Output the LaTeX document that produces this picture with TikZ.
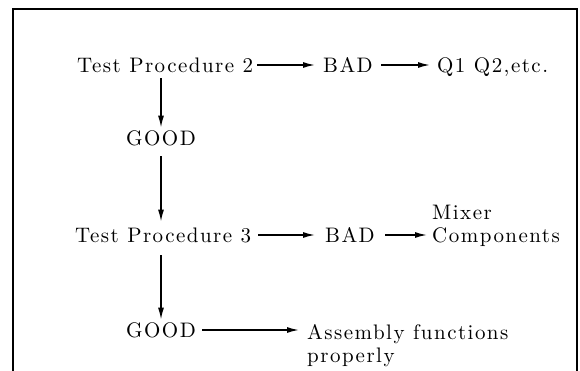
\documentclass[tikz,border=0pt]{standalone}
\usepackage{fontspec}
\usetikzlibrary{arrows.meta}
\newfontfamily\lmsp{lmroman10-regular}[Extension=.otf, LetterSpace=7]
\tikzset{
  lbl/.style={inner sep=0pt, text height=14.3pt, text depth=0pt, anchor=west,
    font=\lmsp\fontsize{21}{25}\selectfont},
  arr/.style={line width=1.5pt, -{Latex[length=12pt,width=6pt]}},
  frame/.style={line width=1.6pt}
}
\begin{document}
\begin{tikzpicture}[x=1pt,y=-1pt]
\useasboundingbox (0,0) rectangle (580,371);
\draw[frame] (13,371) -- (13,9) -- (577,9) -- (577,371);
% row 1
\node[lbl] (t2) at (77,65) {Test Procedure 2};
\node[lbl] (bad1) at (323,65) {BAD};
\node[lbl] (q) at (437,65) {Q1 Q2,etc.};
% good 1
\node[lbl, anchor=center] (good1) at (161,138) {GOOD};
% row 2
\node[lbl] (t3) at (75,235) {Test Procedure 3};
\node[lbl] (bad2) at (325,235) {BAD};
\node[lbl] (mixer) at (432,212) {Mixer};
\node[lbl] (comp) at (432,235) {Components};
% row 3
\node[lbl, anchor=center] (good2) at (161,330) {GOOD};
\node[lbl] (assem) at (307,332) {Assembly functions};
\node[lbl] (prop) at (307,355) {properly};
% arrows
\draw[arr] ([xshift=4pt]t2.east) -- ([xshift=-8pt]bad1.west);
\draw[arr] ([xshift=8pt]bad1.east) -- ([xshift=-7pt]q.west);
\draw[arr] ([xshift=7pt]t3.east) -- ([xshift=-10pt]bad2.west);
\draw[arr] ([xshift=10pt]bad2.east) -- ([xshift=-5pt]comp.west);
\draw[arr] ([xshift=6pt]good2.east) -- ([xshift=-8pt]assem.west |- good2.east);
\draw[arr] ([yshift=-6pt]good1.north |- t2.south) -- ([yshift=3pt]good1.north);
\draw[arr] ([yshift=-11pt]good1.south) -- ([yshift=6pt]good1.south |- t3.north);
\draw[arr] ([yshift=-13pt]good2.north |- t3.south) -- ([yshift=3pt]good2.north);
\end{tikzpicture}
\end{document}
